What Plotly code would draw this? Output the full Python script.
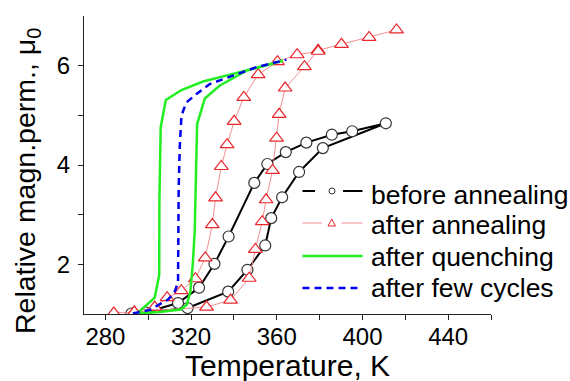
import plotly.graph_objects as go

# ---- data ----
before_T = [292.1, 298.7, 318.4, 337.3, 346.3, 354.6, 357.4, 362.5, 370.4, 381.5, 410.9,
            395.2, 385.7, 373.8, 364.2, 355.6, 349.5, 337.5, 330.9, 323.7, 313.9, 298.7]
before_mu = [1.01, 1.03, 1.12, 1.45, 1.89, 2.38, 2.93, 3.35, 3.86, 4.34, 4.84,
             4.68, 4.61, 4.45, 4.26, 4.02, 3.64, 2.56, 2.01, 1.53, 1.22, 1.03]

after_T = [283.9, 293.5, 327.2, 338.4, 347.1, 350.0, 353.2, 355.0, 358.0, 359.9, 361.1,
           363.9, 372.9, 379.3, 390.2, 403.1, 415.9, None,
           379.3, 369.5, 360.3, 351.3, 344.6, 340.1, 336.8, 334.1, 331.4, 329.9, 326.6,
           322.0, 315.4, 308.8, 303.0, 293.5]
after_mu = [1.02, 1.04, 1.14, 1.28, 1.72, 2.30, 2.86, 3.30, 3.89, 4.54, 5.02,
            5.55, 5.98, 6.31, 6.43, 6.57, 6.72, None,
            6.29, 6.22, 6.08, 5.82, 5.36, 4.88, 4.41, 3.97, 3.34, 2.80, 2.13,
            1.71, 1.47, 1.33, 1.14, 1.04]

quench_T = [295.1, 303.0, 305.1, 305.2, 305.8, 308.2, 315.5, 325.6, 342.7, 359.9, 362.8,
            345.9, 333.4, 326.4, 322.8, 322.4, 321.7, 320.8, 319.6, 318.0, 315.2, 305.4, 293.7]
quench_mu = [1.02, 1.33, 1.78, 3.29, 4.76, 5.31, 5.51, 5.68, 5.87, 6.07, 6.10,
             5.90, 5.60, 5.34, 4.82, 3.89, 2.68, 2.02, 1.43, 1.19, 1.09, 1.04, 1.01]

cycles_T = [292.8, 300.7, 309.2, 312.2, 313.9, 314.2, 314.7, 315.5, 317.8, 322.5, 328.7,
            338.1, 350.5, 364.5]
cycles_mu = [1.01, 1.08, 1.29, 1.43, 1.64, 3.55, 4.36, 5.00, 5.26, 5.43, 5.63,
             5.78, 5.97, 6.12]

series_names = ["before annealing", "after annealing", "after quenching", "after few cycles"]
x_ticks = [280, 320, 360, 400, 440]
y_ticks = [2, 4, 6]

FONT = "Arial, Liberation Sans, sans-serif"
W, H = 570, 381
ML, MR, MT, MB = 84, 79, 16, 67
PW, PH = W - ML - MR, H - MT - MB

def px(x):  # pixel -> paper x (for legend/title placement only)
    return (x - ML) / PW

def py(y):  # pixel -> paper y
    return (H - MB - y) / PH

BLACK, RED_LINE, RED_MK, GREEN, BLUE = "black", "#f29090", "#e8262b", "#22ee22", "#0000ee"

fig = go.Figure()
fig.add_trace(go.Scatter(
    x=before_T, y=before_mu, mode="lines+markers", name=series_names[0],
    line=dict(color=BLACK, width=2),
    marker=dict(symbol="circle", size=11, color="white", line=dict(color="#333333", width=1.2)),
))
fig.add_trace(go.Scatter(
    x=after_T, y=after_mu, mode="lines+markers", name=series_names[1],
    connectgaps=False,
    line=dict(color=RED_LINE, width=1),
    marker=dict(symbol="triangle-up", size=12, color="white", line=dict(color=RED_MK, width=1.2)),
))
fig.add_trace(go.Scatter(
    x=quench_T, y=quench_mu, mode="lines", name=series_names[2],
    line=dict(color=GREEN, width=2.5),
))
fig.add_trace(go.Scatter(
    x=cycles_T, y=cycles_mu, mode="lines", name=series_names[3],
    line=dict(color=BLUE, width=2.5, dash="7px,5px"),
))

# ---- hand-drawn legend (Origin style) ----
shapes = []
annotations = []
L0, L1 = 302.5, 362.5
rows = [191, 223, 256, 288]
shapes += [
    dict(type="line", xref="paper", yref="paper", x0=px(L0), x1=px(315), y0=py(rows[0]), y1=py(rows[0]),
         line=dict(color=BLACK, width=2)),
    dict(type="line", xref="paper", yref="paper", x0=px(343), x1=px(L1), y0=py(rows[0]), y1=py(rows[0]),
         line=dict(color=BLACK, width=2)),
    dict(type="circle", xref="paper", yref="paper", x0=px(329), x1=px(335), y0=py(rows[0] + 3), y1=py(rows[0] - 3),
         line=dict(color="#333333", width=1), fillcolor="white"),
]
shapes += [
    dict(type="line", xref="paper", yref="paper", x0=px(L0), x1=px(322), y0=py(rows[1]), y1=py(rows[1]),
         line=dict(color=RED_LINE, width=1)),
    dict(type="line", xref="paper", yref="paper", x0=px(341.5), x1=px(L1), y0=py(rows[1]), y1=py(rows[1]),
         line=dict(color=RED_LINE, width=1)),
    dict(type="path", xref="paper", yref="paper",
         path=f"M {px(328):.5f} {py(rows[1] + 3):.5f} L {px(335.5):.5f} {py(rows[1] + 3):.5f} "
              f"L {px(331.75):.5f} {py(rows[1] - 4):.5f} Z",
         line=dict(color=RED_MK, width=1), fillcolor="white"),
]
shapes.append(dict(type="line", xref="paper", yref="paper", x0=px(L0), x1=px(L1), y0=py(rows[2]), y1=py(rows[2]),
                   line=dict(color=GREEN, width=2.5)))
shapes.append(dict(type="line", xref="paper", yref="paper", x0=px(L0), x1=px(L1), y0=py(rows[3]), y1=py(rows[3]),
                   line=dict(color=BLUE, width=2.5, dash="7px,5px")))

for name, r in zip(series_names, [195, 225, 257, 288]):
    annotations.append(dict(
        text=name, xref="paper", yref="paper", x=px(369), y=py(r), xanchor="left", yanchor="middle",
        showarrow=False, font=dict(size=26.5, family=FONT, color="black"),
    ))

annotations.append(dict(
    text="Relative magn.perm., μ<sub>0</sub>", textangle=-90,
    xref="paper", yref="paper", x=px(27), y=py(181), xanchor="center", yanchor="middle",
    showarrow=False, font=dict(size=28.5, family=FONT, color="black"),
))
annotations.append(dict(
    text="Temperature, K",
    xref="paper", yref="paper", x=0.5, y=py(365), xanchor="center", yanchor="middle",
    showarrow=False, font=dict(size=30, family=FONT, color="black"),
))

fig.update_layout(
    width=W, height=H,
    margin=dict(l=ML, r=MR, t=MT, b=MB, autoexpand=False),
    paper_bgcolor="white", plot_bgcolor="white",
    font=dict(family=FONT, color="black"),
    showlegend=False,
    xaxis=dict(
        range=[270, 460], tickvals=x_ticks, ticktext=[str(v) for v in x_ticks],
        automargin=False,
        showgrid=False, zeroline=False, showline=True, linecolor="#222", linewidth=1.3,
        ticks="outside", ticklen=5, tickwidth=1.2, tickcolor="#222", ticklabelstandoff=-4,
        minor=dict(tickvals=[300, 340, 380, 420, 460], ticks="outside", ticklen=5, tickwidth=1.2, tickcolor="#222"),
        tickfont=dict(size=24, family=FONT),
    ),
    yaxis=dict(
        range=[1, 7], tickvals=y_ticks, ticktext=[str(v) for v in y_ticks],
        automargin=False,
        showgrid=False, zeroline=False, showline=True, linecolor="#222", linewidth=1.3,
        ticks="outside", ticklen=5, tickwidth=1.2, tickcolor="#222", ticklabelstandoff=3,
        minor=dict(tickvals=[3, 5], ticks="outside", ticklen=5, tickwidth=1.2, tickcolor="#222"),
        tickfont=dict(size=24, family=FONT),
    ),
    shapes=shapes,
    annotations=annotations,
)

fig.write_html("out.html")
